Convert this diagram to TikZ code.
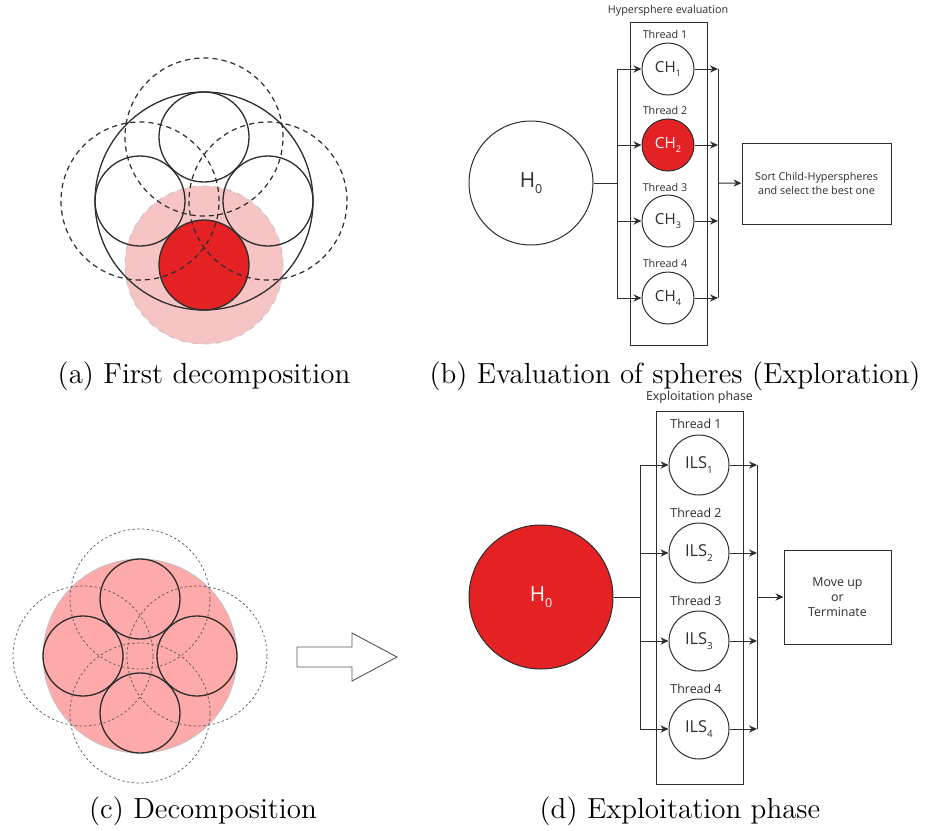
\documentclass[tikz,border=0pt]{standalone}
\usepackage{fontspec}
\newfontfamily\osans{Open Sans}
\usetikzlibrary{arrows.meta, calc}
\definecolor{colorRed}{RGB}{228, 34, 35}
\definecolor{colorPinkA}{RGB}{246, 196, 196}
\definecolor{colorPinkC}{RGB}{255, 170, 170}
\definecolor{colorLine}{RGB}{45, 45, 45}
\tikzstyle{sphere} = [circle, draw=colorLine, line width=0.5pt, inner sep=0pt, text=colorLine]
\tikzstyle{phasebox} = [rectangle, draw=colorLine, line width=0.5pt, inner sep=0pt]
\tikzstyle{result} = [rectangle, draw=colorLine, line width=0.5pt, align=center, text=colorLine]
\tikzstyle{thread} = [text=colorLine, inner sep=0pt]
\tikzstyle{wire} = [draw=colorLine, line width=0.5pt]
\tikzstyle{arrow} = [draw=colorLine, line width=0.5pt, -{Stealth[length=4pt, width=3.6pt]}]
\tikzstyle{solidball} = [draw=colorLine, line width=0.65pt]
\tikzstyle{dashball} = [draw=colorLine, line width=0.6pt, dash pattern=on 2.6pt off 2pt]
\tikzstyle{fineball} = [draw=colorLine!80, line width=0.35pt, dash pattern=on 1.2pt off 1.2pt]
\tikzstyle{caption} = [anchor=base, inner sep=0pt, font=\fontsize{14.5}{17}\selectfont]
\newcommand{\lowidx}[1]{\raisebox{-0.5ex}{\scalebox{0.6}{#1}}}

\begin{document}
\begin{tikzpicture}[x=0.5pt, y=-0.5pt]
	\useasboundingbox (0,0) rectangle (933,831);

	% (a) first decomposition
	\fill[colorPinkA, draw=gray!45, line width=0.5pt, dashed] (204,265) circle[radius=39.5pt];
	\filldraw[fill=colorRed, solidball] (204,265) circle[radius=22.5pt];
	\draw[solidball] (204,201) circle[radius=54.5pt];
	\draw[solidball] (204,137) circle[radius=22.5pt];
	\draw[solidball] (140,201) circle[radius=22.5pt];
	\draw[solidball] (268,201) circle[radius=22.5pt];
	\draw[dashball] (204,137) circle[radius=39.5pt];
	\draw[dashball] (140,201) circle[radius=39.5pt];
	\draw[dashball] (268,201) circle[radius=39.5pt];

	% (c) decomposition
	\fill[colorPinkC, draw=gray!50, line width=0.4pt] (140,656) circle[radius=48.5pt];
	\draw[solidball] (140,599) circle[radius=20pt];
	\draw[solidball] (83,656) circle[radius=20pt];
	\draw[solidball] (197,656) circle[radius=20pt];
	\draw[solidball] (140,713) circle[radius=20pt];
	\draw[fineball] (140,599) circle[radius=35pt];
	\draw[fineball] (83,656) circle[radius=35pt];
	\draw[fineball] (197,656) circle[radius=35pt];
	\draw[fineball] (140,713) circle[radius=35pt];

	% block arrow
	\draw[draw=colorLine!80, line width=0.45pt] (297,647) -- (352,647) -- (352,633) -- (397,657) -- (352,681) -- (352,667) -- (297,667) -- cycle;

	% (b) hypersphere evaluation
	\node (bTitle)[thread, font=\osans\fontsize{5.4}{6.5}\selectfont] at (668,11) {Hypersphere evaluation};
	\node (bPhase)[phasebox, minimum width=38.5pt, minimum height=161.5pt] at (668.5,183.5) {};
	\node (bT1)[thread, font=\osans\fontsize{5.4}{6.5}\selectfont] at (665,34) {Thread 1};
	\node (bT2)[thread, font=\osans\fontsize{5.4}{6.5}\selectfont] at (665,110) {Thread 2};
	\node (bT3)[thread, font=\osans\fontsize{5.4}{6.5}\selectfont] at (665,187) {Thread 3};
	\node (bT4)[thread, font=\osans\fontsize{5.4}{6.5}\selectfont] at (665,263) {Thread 4};
	\node (bCH1)[sphere, minimum size=26pt, font=\osans\fontsize{7.6}{9}\selectfont] at (668,69) {CH\lowidx{1}};
	\node (bCH2)[sphere, minimum size=26pt, fill=colorRed, text=white, font=\osans\fontsize{7.6}{9}\selectfont] at (668,145) {CH\lowidx{2}};
	\node (bCH3)[sphere, minimum size=26pt, font=\osans\fontsize{7.6}{9}\selectfont] at (668,221) {CH\lowidx{3}};
	\node (bCH4)[sphere, minimum size=26pt, font=\osans\fontsize{7.6}{9}\selectfont] at (668,298) {CH\lowidx{4}};
	\node (bHZero)[sphere, minimum size=62pt, font=\osans\fontsize{10.4}{12}\selectfont] at (531,183) {H\lowidx{0}};
	\node (bSort)[result, minimum width=74.5pt, minimum height=40.5pt, font=\osans\fontsize{5.4}{7}\selectfont] at (816.5,183.5) {Sort Child-Hyperspheres\\and select the best one};

	\coordinate (bSplit) at (617,183);
	\coordinate (bMerge) at (718,183);

	\draw[wire] (bHZero) -- (bSplit);
	\draw[wire] (bSplit |- bCH1) -- (bSplit |- bCH4);
	\draw[arrow] (bSplit |- bCH1) -- (bCH1);
	\draw[arrow] (bSplit |- bCH2) -- (bCH2);
	\draw[arrow] (bSplit |- bCH3) -- (bCH3);
	\draw[arrow] (bSplit |- bCH4) -- (bCH4);
	\draw[arrow] (bCH1) -- (bMerge |- bCH1);
	\draw[arrow] (bCH2) -- (bMerge |- bCH2);
	\draw[arrow] (bCH3) -- (bMerge |- bCH3);
	\draw[arrow] (bCH4) -- (bMerge |- bCH4);
	\draw[wire] (bMerge |- bCH1) -- (bMerge |- bCH4);
	\draw[arrow] (bMerge) -- (bSort);

	% (d) exploitation phase
	\node (dTitle)[thread, font=\osans\fontsize{6.2}{7.5}\selectfont] at (699.5,397) {Exploitation phase};
	\node (dPhase)[phasebox, minimum width=43.5pt, minimum height=186.5pt] at (699.5,597.5) {};
	\node (dT1)[thread, font=\osans\fontsize{6.2}{7.5}\selectfont] at (696,424) {Thread 1};
	\node (dT2)[thread, font=\osans\fontsize{6.2}{7.5}\selectfont] at (696,513) {Thread 2};
	\node (dT3)[thread, font=\osans\fontsize{6.2}{7.5}\selectfont] at (696,601) {Thread 3};
	\node (dT4)[thread, font=\osans\fontsize{6.2}{7.5}\selectfont] at (696,689) {Thread 4};
	\node (dILS1)[sphere, minimum size=30pt, font=\osans\fontsize{8.2}{10}\selectfont] at (699,465) {ILS\lowidx{1}};
	\node (dILS2)[sphere, minimum size=30pt, font=\osans\fontsize{8.2}{10}\selectfont] at (699,553) {ILS\lowidx{2}};
	\node (dILS3)[sphere, minimum size=30pt, font=\osans\fontsize{8.2}{10}\selectfont] at (699,641) {ILS\lowidx{3}};
	\node (dILS4)[sphere, minimum size=30pt, font=\osans\fontsize{8.2}{10}\selectfont] at (699,729) {ILS\lowidx{4}};
	\node (dHZero)[sphere, minimum size=72pt, fill=colorRed, text=white, font=\osans\fontsize{10.4}{12}\selectfont] at (541,597) {H\lowidx{0}};
	\node (dMove)[result, minimum width=53.5pt, minimum height=47pt, font=\osans\fontsize{6.2}{7.5}\selectfont] at (837.5,597) {Move up\\or\\Terminate};

	\coordinate (dSplit) at (640,597);
	\coordinate (dMerge) at (757,597);

	\draw[wire] (dHZero) -- (dSplit);
	\draw[wire] (dSplit |- dILS1) -- (dSplit |- dILS4);
	\draw[arrow] (dSplit |- dILS1) -- (dILS1);
	\draw[arrow] (dSplit |- dILS2) -- (dILS2);
	\draw[arrow] (dSplit |- dILS3) -- (dILS3);
	\draw[arrow] (dSplit |- dILS4) -- (dILS4);
	\draw[arrow] (dILS1) -- (dMerge |- dILS1);
	\draw[arrow] (dILS2) -- (dMerge |- dILS2);
	\draw[arrow] (dILS3) -- (dMerge |- dILS3);
	\draw[arrow] (dILS4) -- (dMerge |- dILS4);
	\draw[wire] (dMerge |- dILS1) -- (dMerge |- dILS4);
	\draw[arrow] (dMerge) -- (dMove);

	% captions
	\node (capA)[caption] at (204,383) {(a) First decomposition};
	\node (capB)[caption] at (675,383) {(b) Evaluation of spheres (Exploration)};
	\node (capC)[caption] at (203,818) {(c) Decomposition};
	\node (capD)[caption] at (680,818) {(d) Exploitation phase};

\end{tikzpicture}
\end{document}
